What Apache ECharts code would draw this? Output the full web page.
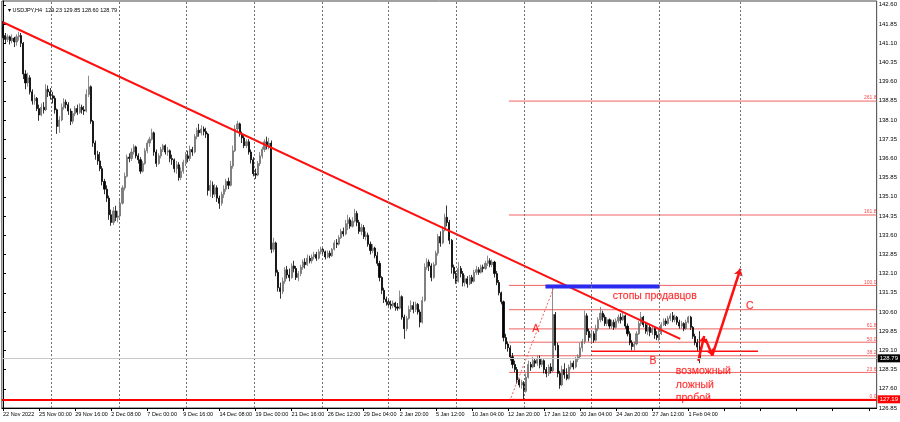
<!DOCTYPE html>
<html>
<head>
<meta charset="utf-8">
<script src="https://cdn.jsdelivr.net/npm/echarts@6/dist/echarts.min.js"></script>
<style>
html,body{margin:0;padding:0;background:#fff;}
#canvas{width:900px;height:422px;}
</style>
</head>
<body>
<div id="canvas"></div>
<script>
// USDJPY H4
var tickLabels = ['22 Nov 2022','25 Nov 00:00','29 Nov 16:00','2 Dec 08:00','7 Dec 00:00','9 Dec 16:00',
	'14 Dec 08:00','19 Dec 00:00','21 Dec 16:00','26 Dec 12:00','29 Dec 04:00','2 Jan 20:00','5 Jan 12:00',
	'10 Jan 04:00','12 Jan 20:00','17 Jan 12:00','20 Jan 04:00','24 Jan 20:00','27 Jan 12:00','1 Feb 04:00'];
var futureBars = 78;

// [open, close, low, high]
var candles = [
[141.75,141.40,141.30,141.97],[141.40,141.25,141.10,141.50],[141.25,141.35,141.15,141.45],[141.35,141.20,141.05,141.40],
[141.20,141.30,141.10,141.45],[141.30,141.15,140.95,141.35],[141.15,141.35,141.00,141.45],[141.35,141.40,141.20,141.55],
[141.40,141.10,140.95,141.50],[141.10,139.90,139.70,141.15],[139.90,139.55,139.30,140.05],[139.55,139.75,139.40,139.95],
[139.75,139.20,139.10,139.85],[139.20,138.85,138.70,139.30],[138.85,138.95,138.70,139.10],[138.95,138.55,138.45,139.00],
[138.55,138.30,138.07,138.70],[138.30,138.60,138.25,138.75],[138.60,138.50,138.35,138.80],[138.50,139.30,138.45,139.50],
[139.30,139.20,139.00,139.45],[139.20,139.05,138.90,139.35],[139.05,138.95,138.75,139.20],[138.95,138.50,138.35,139.05],
[138.50,137.85,137.56,138.55],[137.85,138.10,137.60,138.25],[138.10,138.60,138.05,138.75],[138.60,138.80,138.50,138.95],
[138.80,138.70,138.55,138.90],[138.70,138.45,138.30,138.80],[138.45,138.05,137.90,138.55],[138.05,138.35,137.95,138.45],
[138.35,138.55,138.25,138.65],[138.55,138.40,138.30,138.70],[138.40,138.60,138.35,138.75],[138.60,138.50,138.35,138.70],
[138.50,138.45,138.30,138.65],[138.45,139.10,138.40,139.30],[139.10,139.40,139.00,139.83],[139.40,138.05,137.95,139.45],
[138.05,137.20,137.05,138.10],[137.20,136.75,136.55,137.30],[136.75,136.50,136.35,136.90],[136.50,136.20,136.10,136.85],
[136.20,135.70,135.55,136.30],[135.70,135.40,135.20,135.80],[135.40,135.05,134.90,135.55],[135.05,134.40,134.20,135.15],
[134.40,134.10,133.97,134.60],[134.10,134.55,134.00,134.70],[134.55,134.30,134.15,134.75],[134.30,134.35,134.10,134.55],
[134.35,134.85,134.25,135.00],[134.85,135.45,134.80,135.55],[135.45,135.90,135.35,136.05],[135.90,136.65,135.85,136.75],
[136.65,136.60,136.45,136.80],[136.60,136.85,136.50,137.00],[136.85,137.05,136.75,137.15],[137.05,136.70,136.60,137.10],
[136.70,136.55,136.40,136.80],[136.55,136.10,136.00,136.65],[136.10,136.40,136.05,136.50],[136.40,136.90,136.35,137.00],
[136.90,137.20,136.80,137.30],[137.20,137.35,137.05,137.45],[137.35,137.60,137.30,137.76],[137.60,136.85,136.70,137.65],
[136.85,136.40,136.27,136.95],[136.40,136.70,136.35,136.80],[136.70,136.95,136.60,137.05],[136.95,137.10,136.85,137.17],
[137.10,136.85,136.75,137.15],[136.85,136.90,136.70,137.05],[136.90,136.60,136.45,136.95],[136.60,136.55,136.35,136.75],
[136.55,136.20,136.05,136.60],[136.20,136.35,136.00,136.50],[136.35,135.85,135.73,136.45],[135.85,136.10,135.75,136.25],
[136.10,136.45,136.00,136.55],[136.45,136.70,136.30,136.85],[136.70,136.60,136.45,136.90],[136.60,136.95,136.50,137.10],
[136.95,136.85,136.70,137.05],[136.85,137.45,136.80,137.55],[137.45,137.70,137.35,137.80],[137.70,137.60,137.45,137.95],
[137.60,137.75,137.50,137.90],[137.75,137.65,137.50,137.85],[137.65,137.55,137.40,137.80],[137.55,135.35,135.15,137.60],
[135.35,135.55,135.10,135.75],[135.55,135.20,135.05,135.70],[135.20,135.45,135.10,135.60],[135.45,135.05,134.90,135.55],
[135.05,134.85,134.63,135.15],[134.85,135.20,134.75,135.30],[135.20,135.40,135.05,135.55],[135.40,135.70,135.30,135.80],
[135.70,135.55,135.40,135.85],[135.55,136.30,135.50,136.50],[136.30,136.90,136.20,137.10],[136.90,137.75,136.85,137.90],
[137.75,137.95,137.60,138.07],[137.95,137.55,137.45,138.00],[137.55,137.40,137.20,137.65],[137.40,137.10,137.00,137.50],
[137.10,137.25,137.00,137.35],[137.25,136.85,136.75,137.35],[136.85,136.55,136.40,136.95],[136.55,136.00,135.90,136.65],
[136.00,135.95,135.80,136.20],[135.95,136.40,135.90,136.50],[136.40,136.70,136.30,136.85],[136.70,136.95,136.60,137.05],
[136.95,137.25,136.85,137.35],[137.25,137.10,136.95,137.45],[137.10,137.20,136.95,137.40],[137.20,133.05,132.90,137.30],
[133.05,133.30,132.95,133.50],[133.30,132.15,132.00,133.35],[132.15,131.55,131.40,132.25],[131.55,131.40,131.12,131.75],
[131.40,131.80,131.30,131.95],[131.80,132.25,131.70,132.35],[132.25,132.05,131.90,132.40],[132.05,131.95,131.80,132.30],
[131.95,132.40,131.90,132.50],[132.40,132.30,132.15,132.60],[132.30,131.95,131.85,132.40],[131.95,132.10,131.80,132.20],
[132.10,132.35,132.00,132.45],[132.35,132.55,132.25,132.65],[132.55,132.45,132.30,132.70],[132.45,132.70,132.40,132.85],
[132.70,132.60,132.50,132.80],[132.60,132.75,132.50,132.85],[132.75,132.85,132.65,132.95],[132.85,132.70,132.60,132.95],
[132.70,132.95,132.65,133.05],[132.95,133.05,132.85,133.15],[133.05,132.95,132.80,133.10],[132.95,132.75,132.65,133.00],
[132.75,132.90,132.70,133.00],[132.90,132.80,132.70,133.00],[132.80,133.05,132.75,133.10],[133.05,133.30,133.00,133.40],
[133.30,133.25,133.10,133.45],[133.25,133.50,133.20,133.60],[133.50,133.75,133.45,133.85],[133.75,133.65,133.55,133.90],
[133.65,134.05,133.60,134.20],[134.05,134.20,133.80,134.40],[134.20,133.95,133.85,134.30],[133.95,134.15,133.90,134.30],
[134.15,134.45,134.10,134.63],[134.45,134.10,133.95,134.55],[134.10,133.75,133.65,134.20],[133.75,133.90,133.60,134.05],
[133.90,133.55,133.45,134.00],[133.55,133.60,133.40,133.75],[133.60,133.25,133.15,133.70],[133.25,133.00,132.85,133.35],
[133.00,133.10,132.90,133.25],[133.10,132.80,132.70,133.15],[132.80,132.50,132.40,132.95],[132.50,131.95,131.80,132.60],
[131.95,131.45,131.30,132.00],[131.45,131.10,130.95,131.55],[131.10,131.00,130.85,131.20],[131.00,130.90,130.75,131.10],
[130.90,130.85,130.70,131.05],[130.85,130.95,130.75,131.05],[130.95,130.80,130.65,131.00],[130.80,130.75,130.65,130.95],
[130.75,131.20,130.70,131.44],[131.20,130.40,130.30,131.25],[130.40,129.95,129.55,130.50],[129.95,130.35,129.85,130.45],
[130.35,130.70,130.30,130.85],[130.70,130.85,130.60,131.05],[130.85,130.70,130.55,131.00],[130.70,130.90,130.60,131.00],
[130.90,130.60,130.50,130.95],[130.60,130.20,130.00,130.70],[130.20,131.05,130.15,131.20],[131.05,132.35,131.00,132.50],
[132.35,132.55,132.25,132.70],[132.55,132.40,132.20,132.65],[132.40,131.95,131.80,132.50],[131.95,132.45,131.90,132.55],
[132.45,132.90,132.40,133.00],[132.90,133.55,132.80,133.65],[133.55,133.30,133.15,133.75],[133.30,133.80,133.25,133.95],
[133.80,134.30,133.75,134.44],[134.30,134.10,133.95,134.76],[134.10,133.40,133.25,134.20],[133.40,132.35,132.10,133.45],
[132.35,132.10,131.90,132.45],[132.10,131.80,131.70,132.20],[131.80,132.30,131.75,132.55],[132.30,132.10,131.95,132.40],
[132.10,131.75,131.60,132.20],[131.75,131.90,131.60,132.05],[131.90,131.70,131.55,132.00],[131.70,131.95,131.65,132.05],
[131.95,131.80,131.70,132.05],[131.80,132.15,131.75,132.25],[132.15,132.25,132.05,132.40],[132.25,132.15,132.05,132.35],
[132.15,132.35,132.10,132.45],[132.35,132.30,132.15,132.45],[132.30,132.50,132.25,132.60],[132.50,132.60,132.40,132.80],
[132.60,132.45,132.35,132.70],[132.45,132.55,132.35,132.65],[132.55,132.10,131.95,132.60],[132.10,131.75,131.65,132.20],
[131.75,131.35,131.25,131.85],[131.35,131.00,130.90,131.40],[131.00,129.60,129.45,131.05],[129.60,129.35,129.15,129.75],
[129.35,129.20,129.05,129.45],[129.20,128.85,128.70,129.30],[128.85,128.55,128.40,129.00],[128.55,128.35,128.25,128.70],
[128.35,127.95,127.80,128.45],[127.95,127.75,127.65,128.00],[127.75,127.85,127.60,127.95],[127.85,127.50,127.19,127.90],
[127.50,128.05,127.45,128.20],[128.05,128.55,128.00,128.70],[128.55,128.45,128.30,128.65],[128.45,128.70,128.40,128.85],
[128.70,128.60,128.45,128.80],[128.60,128.75,128.50,128.90],[128.75,128.55,128.40,128.90],[128.55,128.70,128.45,128.80],
[128.70,128.35,128.20,128.75],[128.35,128.20,128.05,128.45],[128.20,128.45,128.10,128.55],[128.45,128.30,128.20,128.60],
[128.30,130.50,128.25,131.55],[130.50,129.30,129.10,130.60],[129.30,128.20,128.05,129.40],[128.20,127.75,127.60,128.30],
[127.75,128.35,127.70,128.50],[128.35,128.15,128.00,128.60],[128.15,128.00,127.93,128.40],[128.00,128.45,127.95,128.55],
[128.45,128.60,128.35,128.70],[128.60,128.45,128.35,128.70],[128.45,128.75,128.40,128.85],[128.75,128.85,128.65,128.95],
[128.85,129.20,128.80,129.40],[129.20,129.45,129.05,129.55],[129.45,130.45,129.35,130.66],[130.45,129.85,129.70,130.55],
[129.85,129.60,129.45,129.95],[129.60,129.75,129.35,129.90],[129.75,129.50,129.40,129.85],[129.50,129.95,129.45,130.10],
[129.95,130.30,129.85,130.40],[130.30,130.55,130.20,130.80],[130.55,130.40,130.25,130.65],[130.40,130.15,130.05,130.50],
[130.15,130.30,130.05,130.40],[130.30,130.05,129.95,130.35],[130.05,130.20,129.95,130.30],[130.20,130.00,129.90,130.30],
[130.00,130.25,129.95,130.35],[130.25,130.40,130.15,130.50],[130.40,130.30,130.15,130.55],[130.30,130.45,130.25,130.60],
[130.45,130.05,129.95,130.50],[130.05,129.75,129.65,130.15],[129.75,129.40,129.30,129.85],[129.40,129.25,129.10,129.50],
[129.25,129.35,129.10,129.45],[129.35,129.75,129.30,129.85],[129.75,130.15,129.70,130.25],[130.15,130.40,130.05,130.60],
[130.40,130.10,130.00,130.45],[130.10,129.85,129.75,130.20],[129.85,130.00,129.70,130.15],[130.00,129.80,129.65,130.10],
[129.80,129.95,129.70,130.05],[129.95,129.70,129.55,130.05],[129.70,129.60,129.50,129.85],[129.60,129.75,129.45,129.90],
[129.75,130.10,129.70,130.20],[130.10,130.25,130.05,130.35],[130.25,130.15,130.05,130.35],[130.15,130.35,130.10,130.45],
[130.35,130.45,130.25,130.55],[130.45,130.30,130.20,130.60],[130.30,130.40,130.20,130.50],[130.40,130.20,130.10,130.45],
[130.20,130.05,129.95,130.30],[130.05,130.15,129.95,130.25],[130.15,129.95,129.85,130.20],[129.95,130.20,129.90,130.30],
[130.20,130.40,130.15,130.45],[130.40,130.00,129.90,130.45],[130.00,129.65,129.55,130.05],[129.65,129.40,129.30,129.75],
[129.40,129.23,129.05,129.55],[129.23,128.79,128.60,129.85]
];

var lastPrice = 128.79;
var lowPrice = 127.19;

// fibo grid (0 at 127.19, 100 at 131.64)
var fibLevels = [138.84, 134.39, 131.64, 130.69, 129.94, 129.42, 128.89, 128.24, 127.19];
var fibNames  = ['261.8', '161.8', '100.0', '', '61.8', '50.0', '38.2', '23.6', '0.0'];
var fibStart = 224.4;

// drawn objects, in [bar index, price]
var trendLine   = [[0, 141.92], [300.4, 129.55]];
var sellerStops = [[240.6, 131.60], [291.2, 131.60]];
var lineB       = [[260.8, 129.07], [334.9, 129.07]];
var legA        = [[225.3, 127.25], [244.3, 131.55]];
var arrows = [
	[[308.4, 128.69], [311.0, 129.66]],
	[[311.6, 129.55], [314.6, 128.90]],
	[[314.6, 128.90], [327.1, 132.29]]
];
var gridBars = [21.2, 51.5, 81.4, 111.4, 141.4, 171.0, 201.0, 231.0, 261.0, 291.0, 327.1];

var noteTexts = ['A', 'B', 'C', 'стопы продавцов', 'возможный', 'ложный', 'пробой'];
var notePos   = [[234.7, 129.92], [286.7, 128.67], [329.6, 130.84], [270.5, 131.22], [298.4, 128.28], [298.4, 127.73], [298.4, 127.24]];

drawChart();

function drawChart(){
	var myChart = echarts.init(document.getElementById('canvas'));
	var option = chartOptions();
	myChart.setOption(option);
}

function chartOptions(){
	var total = candles.length + futureBars;
	var cats = [];
	for (var i = 0; i < total; i++) cats.push(i);

	var fibColor = '#f06262';
	var red = '#ff0000';

	var noteData = [];
	for (var n = 0; n < noteTexts.length; n++) {
		noteData.push({value: notePos[n], label: {formatter: noteTexts[n]}});
	}

	var fibLabelData = [];
	var series = [
		{
			// vertical dashed grid
			type: 'line', xAxisIndex: 1, yAxisIndex: 0,
			data: [[0, 130]], showSymbol: false, silent: true,
			lineStyle: {width: 0},
			markLine: {
				silent: true, symbol: 'none', animation: false,
				lineStyle: {type: [2, 2], color: '#707070', width: 1},
				label: {show: false},
				data: gridBars.map(function(v){ return {xAxis: v}; })
			}
		}
	];

	// fibo levels, one plain line each
	for (var k = 0; k < fibLevels.length; k++) {
		series.push({
			type: 'line', xAxisIndex: 1, yAxisIndex: 0,
			data: [[fibStart, fibLevels[k]], [total - 0.5, fibLevels[k]]],
			showSymbol: false, silent: true, z: 1,
			lineStyle: {color: fibColor, width: 1}
		});
		fibLabelData.push({value: [total - 0.6, fibLevels[k]], label: {formatter: fibNames[k]}});
	}
	series.push({
		type: 'scatter', xAxisIndex: 1, yAxisIndex: 0,
		symbolSize: 0, silent: true,
		label: {show: true, position: 'left', distance: 0, offset: [0, -3], fontSize: 5, color: '#f51c1c'},
		data: fibLabelData
	});

	series.push(
		{
			type: 'candlestick',
			xAxisIndex: 0, yAxisIndex: 0,
			data: candles.map(function(c){ return [c[0], c[1], c[2], c[3]]; }),
			barWidth: 1.6, z: 3,
			itemStyle: {
				color: '#7e7e7e', color0: '#000',
				borderColor: '#707070', borderColor0: '#000',
				borderWidth: 0.8
			},
			markLine: {
				silent: true, symbol: 'none', animation: false,
				data: [
					{
						yAxis: lastPrice,
						lineStyle: {type: 'solid', color: '#c8c8c8', width: 1},
						label: {show: true, position: 'end', distance: 1, formatter: lastPrice.toFixed(2),
							fontSize: 6, color: '#fff', backgroundColor: '#000', padding: [1, 2]}
					},
					{
						yAxis: lowPrice,
						lineStyle: {type: 'solid', color: '#ff0000', width: 2},
						label: {show: true, position: 'end', distance: 1, formatter: lowPrice.toFixed(2),
							fontSize: 6, color: '#fff', backgroundColor: '#ff0000', padding: [1, 2]}
					}
				]
			}
		},
		{
			name: 'trend', type: 'line', xAxisIndex: 1, yAxisIndex: 0,
			data: trendLine, showSymbol: false, silent: true, z: 4,
			lineStyle: {color: '#ff1010', width: 2}
		},
		{
			name: 'stops', type: 'line', xAxisIndex: 1, yAxisIndex: 0,
			data: sellerStops, showSymbol: false, silent: true, z: 4,
			lineStyle: {color: '#2a2af0', width: 4}
		},
		{
			name: 'B', type: 'line', xAxisIndex: 1, yAxisIndex: 0,
			data: lineB, showSymbol: false, silent: true, z: 4,
			lineStyle: {color: '#ff1010', width: 1.5}
		},
		{
			name: 'A', type: 'line', xAxisIndex: 1, yAxisIndex: 0,
			data: legA, showSymbol: false, silent: true, z: 4,
			lineStyle: {color: fibColor, width: 1, type: [2, 2]}
		},
		{
			type: 'lines', coordinateSystem: 'cartesian2d', xAxisIndex: 1, yAxisIndex: 0,
			silent: true, z: 4,
			symbol: ['none', 'arrow'], symbolSize: 7,
			lineStyle: {color: '#ff1010', width: 2.5, opacity: 1},
			data: arrows.map(function(a){ return {coords: a}; })
		},
		{
			type: 'scatter', xAxisIndex: 1, yAxisIndex: 0,
			symbolSize: 0, silent: true, z: 5,
			label: {show: true, position: 'right', distance: 0, fontSize: 10.5, color: red,
				textBorderColor: 'rgba(255,0,0,0.35)', textBorderWidth: 0.4},
			data: noteData
		}
	);

	var option = {
		animation: false,
		backgroundColor: '#fff',
		textStyle: {fontFamily: 'Liberation Sans'},
		title: {
			text: '\u25BE USDJPY,H4  129.23 129.85 128.60 128.79',
			left: 3, top: 2,
			textStyle: {fontSize: 5.5, fontWeight: 'normal', color: '#000'}
		},
		grid: {
			left: 1, right: 21, top: 1, bottom: 14,
			show: true, borderColor: '#444', borderWidth: 1
		},
		xAxis: [
			{
				type: 'category',
				data: cats,
				boundaryGap: true,
				axisLine: {lineStyle: {color: '#000', width: 1}},
				axisTick: {show: true, interval: 15, alignWithLabel: true, length: 3, lineStyle: {color: '#000'}},
				axisLabel: {
					interval: 15, fontSize: 5.5, color: '#000', margin: 3, align: 'left',
					formatter: function(v, i){ return tickLabels[i / 16] || ''; }
				},
				splitLine: {show: false}
			},
			{
				type: 'value', show: false,
				min: -0.5, max: total - 0.5,
				splitLine: {show: false}
			}
		],
		yAxis: [
			{
				type: 'value', position: 'right',
				min: 126.85, max: 142.75, interval: 0.75,
				axisLine: {show: true, lineStyle: {color: '#000', width: 1}},
				axisTick: {show: true, length: 3, lineStyle: {color: '#000'}},
				axisLabel: {
					fontSize: 6, color: '#000', margin: 2, showMaxLabel: false,
					formatter: function(v){ return v.toFixed(2); }
				},
				splitLine: {show: false}
			}
		],
		series: series
	};
	return option;
}
</script>
</body>
</html>
